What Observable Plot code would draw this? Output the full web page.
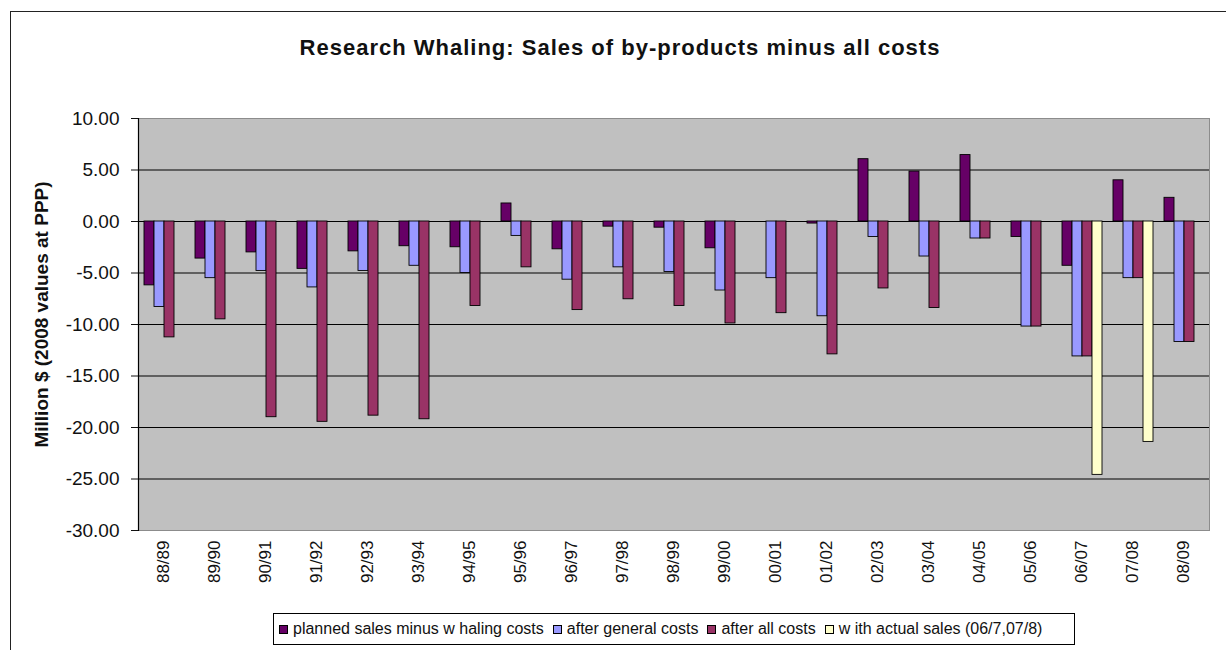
<!DOCTYPE html>
<html>
<head>
<meta charset="utf-8">
<script src="https://cdn.jsdelivr.net/npm/d3@7"></script>
<script src="https://cdn.jsdelivr.net/npm/@observablehq/plot@0.6"></script>
<style>
  html, body { margin: 0; padding: 0; background: #fff; }
  body { font-family: "Liberation Sans", Arial, sans-serif; width: 1226px; height: 650px; overflow: hidden; position: relative; }
  #border { position: absolute; left: 10px; top: 11px; width: 1300px; height: 700px; border-top: 1.5px solid #222; border-left: 1.5px solid #222; }
  #chart { position: absolute; left: 0; top: 0; width: 1226px; }
  #title { height: 90px; margin: 0; width: 1240px; text-align: center; font-size: 22px; letter-spacing: 1px; font-weight: bold; line-height: 96px; color: #111; }
  #chart svg { display: block; }
  #legend { position: absolute; left: 273px; top: 613px; width: 802px; height: 32px; border: 1px solid #000; background: #fff;
            display: flex; align-items: center; font-family: "Liberation Sans", Arial, sans-serif; font-size: 16px; color: #111; padding-left: 5px; box-sizing: border-box; white-space: nowrap; }
  #legend .item { display: flex; align-items: center; margin-right: 9px; }
  #legend .sw { width: 7px; height: 7px; border: 1px solid #000; margin-right: 5px; }
</style>
</head>
<body>
<div id="border"></div>
<div id="chart">
  <div id="title">Research Whaling: Sales of by-products minus all costs</div>
</div>
<div id="legend"></div>
<script>
// Fiscal years of the research programme
const years = ["88/89","89/90","90/91","91/92","92/93","93/94","94/95","95/96","96/97","97/98","98/99",
               "99/00","00/01","01/02","02/03","03/04","04/05","05/06","06/07","07/08","08/09"];

// Series names as they appear in the legend
const seriesNames = [
  "planned sales minus w haling costs",
  "after general costs",
  "after all costs",
  "w ith actual sales (06/7,07/8)"
];
const seriesColors = ["#660066", "#9999ff", "#993366", "#ffffcc"];

// Million $ (2008 values at PPP)
const planned      = [-6.2, -3.6, -3.0, -4.6, -2.9, -2.4, -2.5, 1.75, -2.7, -0.5, -0.6, -2.6, 0, -0.2, 6.05, 4.85, 6.45, -1.5, -4.3, 4.0, 2.3];
const afterGeneral = [-8.3, -5.5, -4.8, -6.4, -4.8, -4.3, -5.0, -1.4, -5.65, -4.45, -4.9, -6.7, -5.5, -9.2, -1.5, -3.4, -1.65, -10.2, -13.1, -5.5, -11.7];
const afterAll     = [-11.25, -9.5, -19.0, -19.45, -18.85, -19.2, -8.2, -4.45, -8.6, -7.55, -8.2, -9.9, -8.9, -12.9, -6.5, -8.4, -1.65, -10.2, -13.1, -5.5, -11.7];
const withActual   = [null, null, null, null, null, null, null, null, null, null, null, null, null, null, null, null, null, null, -24.6, -21.4, null];

const yTicks = [10, 5, 0, -5, -10, -15, -20, -25, -30];
const gridValues = [5, 0, -5, -10, -15, -20, -25];

// Long-format rows for the grouped bars
const rows = [];
[planned, afterGeneral, afterAll, withActual].forEach((vals, s) => {
  years.forEach((yr, i) => {
    if (vals[i] != null) rows.push({year: yr, series: seriesNames[s], value: vals[i]});
  });
});

// Facets sit edge to edge so the grid lines run continuously;
// the gap between year groups comes from the outer padding of the series scale.
const chart = Plot.plot({
  width: 1226,
  height: 510,
  marginTop: 28,
  marginBottom: 70,
  marginLeft: 129,
  marginRight: 9,
  style: {fontFamily: "'Liberation Sans', Arial, sans-serif", background: "transparent", color: "#111"},
  fx: {domain: years, paddingInner: 0, paddingOuter: 0, label: null},
  x: {domain: seriesNames, paddingInner: 0, paddingOuter: 0.55, axis: null},
  y: {domain: [-30, 10]},
  color: {domain: seriesNames, range: seriesColors},
  marks: [
    Plot.frame({facet: "super", fill: "#c0c0c0", stroke: "none"}),
    Plot.ruleY(gridValues, {stroke: "#000", strokeWidth: 1.2}),
    Plot.barY(rows, {fx: "year", x: "series", y: "value", fill: "series", stroke: "#000", strokeWidth: 0.9}),
    Plot.frame({facet: "super", stroke: "#8c8c8c"}),
    Plot.frame({facet: "super", anchor: "left", stroke: "#000", strokeWidth: 1.2}),
    Plot.axisY(yTicks, {
      tickSize: 7, tickPadding: 12, fontSize: 19,
      tickFormat: d => d.toFixed(2),
      label: "Million $ (2008 values at PPP)", labelAnchor: "center", labelOffset: 104, labelArrow: "none"
    }),
    Plot.axisFx({anchor: "bottom", tickRotate: -90, tickSize: 0, tickPadding: 10, fontSize: 17, label: null})
  ]
});

// Bold axis title, nudged slightly upward along its rotated baseline
d3.select(chart).selectAll('[aria-label="y-axis label"]')
  .attr("font-weight", "bold").attr("font-size", 19)
  .selectAll("text").attr("dx", 10);

document.getElementById("chart").appendChild(chart);

// Legend
const legend = d3.select("#legend");
seriesNames.forEach((name, i) => {
  const item = legend.append("div").attr("class", "item");
  item.append("div").attr("class", "sw").style("background", seriesColors[i]);
  item.append("span").text(name);
});
</script>
</body>
</html>
